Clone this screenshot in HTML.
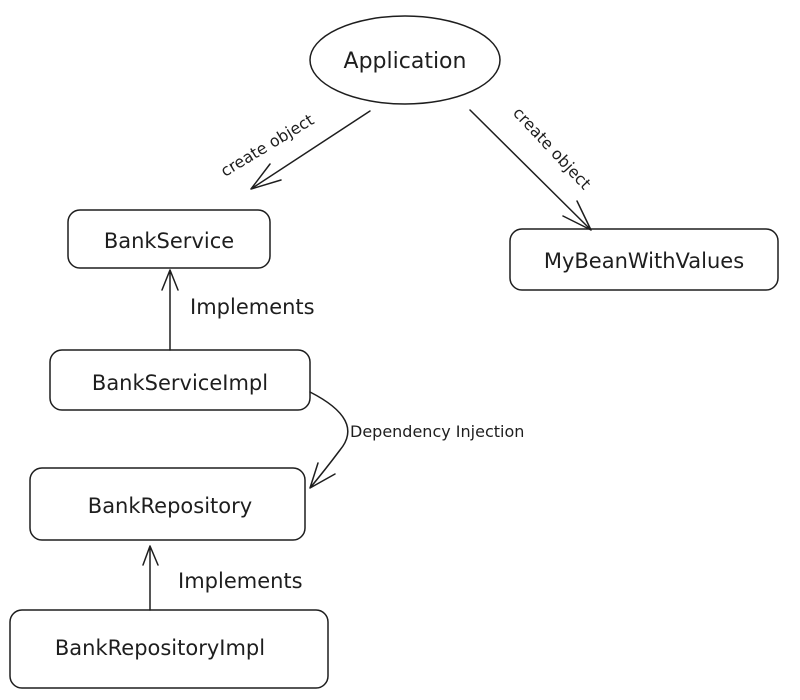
<!DOCTYPE html>
<html><head><meta charset="utf-8"><style>
html,body{margin:0;padding:0;background:#fff;width:800px;height:700px;overflow:hidden}
text{font-family:"DejaVu Sans","Liberation Sans",sans-serif;fill:#1e1e1e}
</style></head><body>
<svg width="800" height="700" viewBox="0 0 800 700" xmlns="http://www.w3.org/2000/svg" fill="none" stroke="#1e1e1e" stroke-width="1.5" stroke-linecap="round">
<ellipse cx="405" cy="60" rx="95" ry="44"/>
<text x="405" y="68" font-size="22" text-anchor="middle" stroke="none">Application</text>

<path d="M370 111 L251 189 M251 189 L270 164 M251 189 L281 180"/>
<text transform="translate(270,150) rotate(-31)" font-size="16" text-anchor="middle" stroke="none">create object</text>

<path d="M470 110 L591 230 M591 230 L577 201 M591 230 L563 216"/>
<text transform="translate(548,152) rotate(47)" font-size="16" text-anchor="middle" stroke="none">create object</text>

<rect x="68" y="210" width="202" height="58" rx="12"/>
<text x="169" y="248" font-size="21" text-anchor="middle" stroke="none">BankService</text>

<rect x="510" y="229" width="268" height="61" rx="12"/>
<text x="644" y="268" font-size="21" text-anchor="middle" stroke="none">MyBeanWithValues</text>

<path d="M170 350 L170 270 M170 270 L162 290 M170 270 L178 290"/>
<text x="190" y="314" font-size="21" stroke="none">Implements</text>

<rect x="50" y="350" width="260" height="60" rx="12"/>
<text x="180" y="390" font-size="21" text-anchor="middle" stroke="none">BankServiceImpl</text>

<path d="M310 392 Q365 420 340 450 Q325 470 310 488 M310 488 L318 463 M310 488 L335 474"/>
<text x="350" y="437" font-size="16" stroke="none">Dependency Injection</text>

<rect x="30" y="468" width="275" height="72" rx="12"/>
<text x="170" y="513" font-size="21" text-anchor="middle" stroke="none">BankRepository</text>

<path d="M150 610 L150 546 M150 546 L143 565 M150 546 L158 565"/>
<text x="178" y="588" font-size="21" stroke="none">Implements</text>

<rect x="10" y="610" width="318" height="78" rx="12"/>
<text x="160" y="655" font-size="21" text-anchor="middle" stroke="none">BankRepositoryImpl</text>
</svg>
</body></html>
